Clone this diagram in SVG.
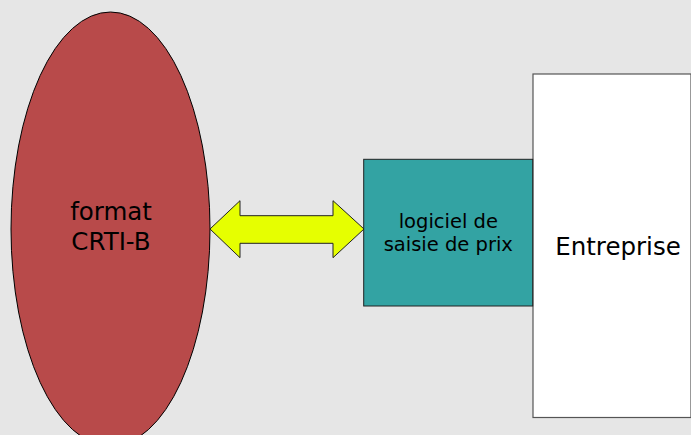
<svg xmlns="http://www.w3.org/2000/svg" width="691" height="435" viewBox="0 0 691 435">
<style>
text{font-family:"DejaVu Sans",sans-serif;fill:#000;text-anchor:middle}
.b{font-size:24.5px}
.s{font-size:19.5px}
</style>
<rect width="691" height="435" fill="#e6e6e6"/>
<g id="entreprise">
<rect x="533" y="74" width="158" height="343.5" fill="#fff" stroke="#555" stroke-width="1.2"/>
<text class="b" x="618" y="255">Entreprise</text>
</g>
<g id="format">
<ellipse cx="110.5" cy="229" rx="99.5" ry="217" fill="#b84a4a" stroke="#000" stroke-width="1"/>
<text class="b" x="111" y="220">format</text>
<text class="b" x="111" y="250">CRTI-B</text>
</g>
<g id="logiciel">
<rect x="363.7" y="159.3" width="169" height="146.7" fill="#33a3a3" stroke="#222" stroke-width="1"/>
<text class="s" x="448.3" y="228.3">logiciel de</text>
<text class="s" x="448.3" y="250.7">saisie de prix</text>
</g>
<g id="connectors">
<polygon points="210,229 240,200.7 240,215.7 333,215.7 333,200.7 364,229 333,257.7 333,243.3 240,243.3 240,257.7" fill="#e6ff00" stroke="#222" stroke-width="1"/>
</g>
</svg>
